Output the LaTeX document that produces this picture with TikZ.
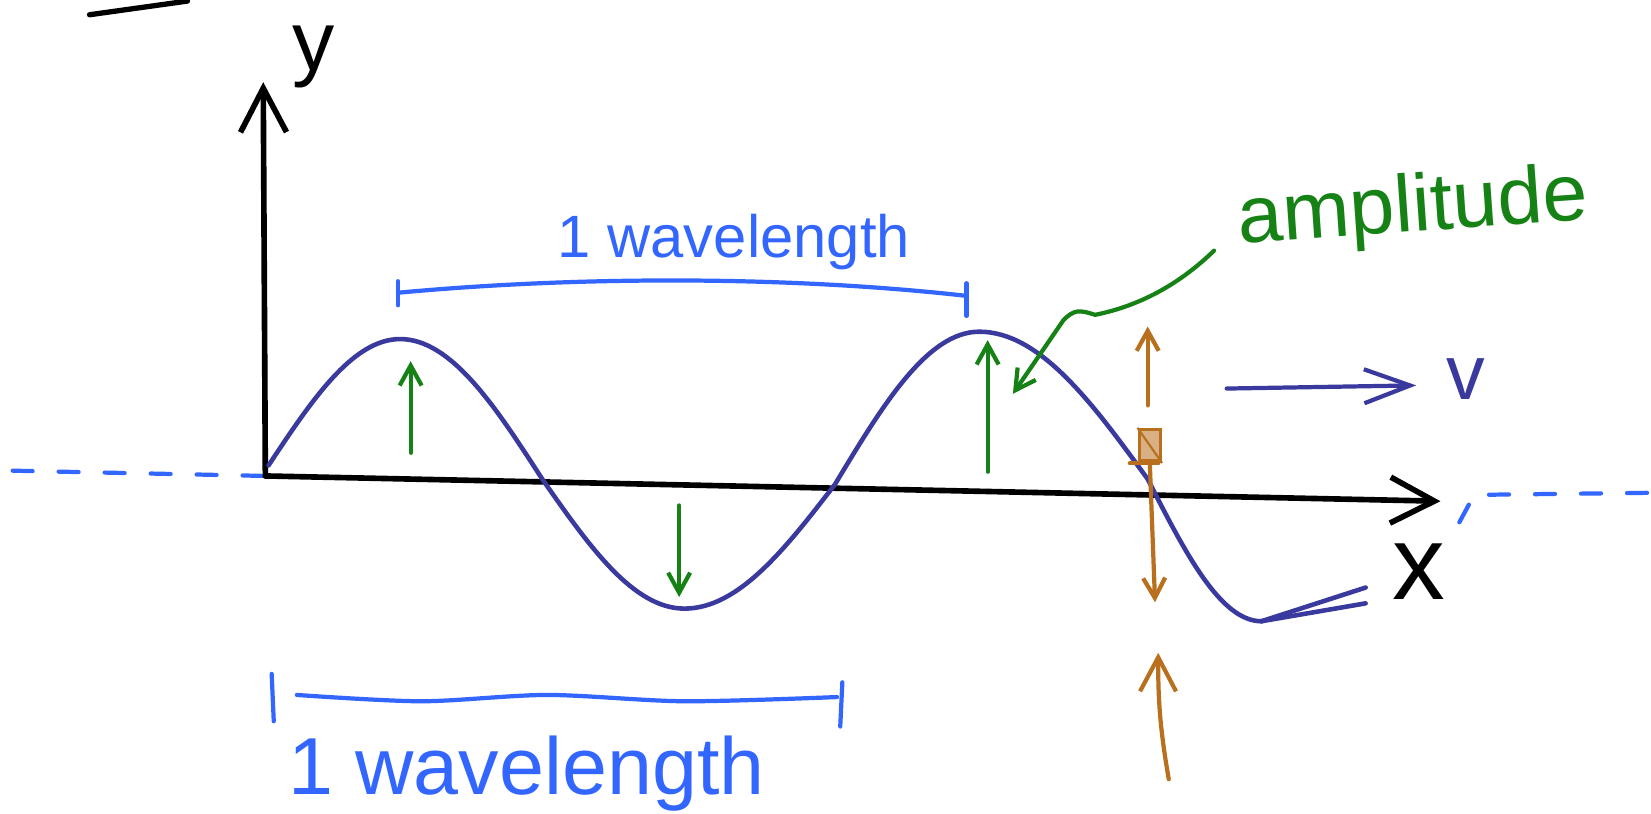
\documentclass[tikz,border=0pt]{standalone}
\usepackage{fontspec}
\setmainfont{Liberation Sans}
\usetikzlibrary{arrows.meta}
\definecolor{wavecol}{RGB}{58,58,158}
\definecolor{spanblue}{RGB}{51,102,255}
\definecolor{ampgreen}{RGB}{22,130,22}
\definecolor{partbrown}{RGB}{185,112,30}

\begin{document}
\begin{tikzpicture}[
  x=0.01053cm, y=-0.01053cm,
  ink/.style={line width=1.2pt, line cap=round, line join=round},
  axis/.style={ink, line width=1.6pt, black,
               -{Straight Barb[length=4.4mm, width=4.6mm, line width=1.6pt]}},
  wave/.style={ink, line width=1.3pt, wavecol},
  vel/.style={ink, wavecol, -{Straight Barb[length=4.6mm, width=3.4mm]}},
  amp/.style={ink, ampgreen, -{Straight Barb[length=2mm, width=2.2mm]}},
  part/.style={ink, partbrown, -{Straight Barb[length=2mm, width=2.2mm]}},
  span/.style={ink, spanblue},
  guide/.style={ink, spanblue, dash pattern=on 2mm off 2.6mm},
  lbl/.style={inner sep=0pt, anchor=center},
  partmark/.style={draw=partbrown, fill=partbrown!55, line width=1pt,
                   minimum width=6pt, minimum height=9pt, inner sep=0pt}
]
\useasboundingbox (0,0) rectangle (1568,773);

\coordinate (topl) at (85,14);
\coordinate (topr) at (178,1);
\draw[ink, line width=1.5pt] (topl) -- (topr);

\coordinate (origin) at (252,452);
\coordinate (ytip) at (250,78);
\coordinate (xtip) at (1368,476);
\coordinate (dashl) at (12,447);
\coordinate (dashr0) at (1386,496);
\coordinate (dashr1) at (1400,470);
\coordinate (dashr2) at (1568,468);
\draw[guide] (dashl) -- (origin);
\draw[guide] (dashr0) -- (dashr1) -- (dashr2);
\draw[axis] (origin) -- (ytip);
\draw[axis] (origin) -- (xtip);
\node[lbl, font=\fontsize{24}{24}\selectfont] (ylab) at (298,54) {y};
\node[lbl, font=\fontsize{30}{30}\selectfont] (xlab) at (1348,543) {x};

\draw[wave] (255,442) sin (380,322) cos (515,455) sin (650,578)
  cos (793,460) sin (930,315) cos (1090,455) sin (1198,590);
\coordinate (wend) at (1198,590);
\coordinate (tailhi) at (1297,558);
\coordinate (taillo) at (1297,573);
\draw[wave] (wend) -- (tailhi);
\draw[wave] (wend) -- (taillo);

\coordinate (vtail) at (1165,369);
\coordinate (vtip) at (1345,366);
\draw[vel] (vtail) -- (vtip);
\node[lbl, font=\fontsize{22}{22}\selectfont, text=wavecol] (vlab) at (1392,360) {v};

\coordinate (up1) at (390,430);
\coordinate (up1t) at (390,343);
\coordinate (dn1) at (645,480);
\coordinate (dn1t) at (645,567);
\coordinate (up2) at (938,448);
\coordinate (up2t) at (938,323);
\draw[amp] (up1) -- (up1t);
\draw[amp] (dn1) -- (dn1t);
\draw[amp] (up2) -- (up2t);

\node[lbl, font=\fontsize{23}{23}\selectfont, text=ampgreen, rotate=4]
  (amplbl) at (1342,200) {amplitude};
\coordinate (ampfrom) at (1153,238);
\coordinate (ampkink) at (1040,299);
\coordinate (amptip) at (962,374);
\draw[amp] (ampfrom) .. controls (1115,275) and (1075,292) .. (ampkink)
  .. controls (1025,294) and (1020,294) .. (1010,304) -- (amptip);

\coordinate (topspl) at (378,278);
\coordinate (topspr) at (918,281);
\draw[span] (378,267) -- (378,290);
\draw[span] (918,269) -- (918,300);
\draw[span] (topspl) .. controls (550,262) and (750,262) .. (topspr);
\node[lbl, font=\fontsize{17}{17}\selectfont, text=spanblue]
  (toplbl) at (697,230) {1 wavelength};

\coordinate (botspl) at (282,660);
\coordinate (botspr) at (795,662);
\draw[span] (258,640) -- (260,685);
\draw[span] (800,648) -- (798,690);
\draw[span] plot[smooth] coordinates {(botspl) (400,666) (520,660) (650,666) (botspr)};
\node[lbl, font=\fontsize{23}{23}\selectfont, text=spanblue]
  (botlbl) at (500,735) {1 wavelength};

\node[partmark] (particle) at (1092,423) {};
\draw[partbrown, line width=0.6pt] (particle.north west) -- (particle.south east);
\coordinate (baseL) at (1073,440);
\coordinate (baseR) at (1100,440);
\draw[ink, partbrown] (baseL) -- (baseR);
\coordinate (pup0) at (1090,385);
\coordinate (pup1) at (1090,310);
\coordinate (pdn1) at (1097,572);
\coordinate (pin0) at (1110,740);
\coordinate (pin1) at (1100,620);
\draw[part] (pup0) -- (pup1);
\draw[part] (particle.south) -- (pdn1);
\draw[part, -{Straight Barb[length=3.4mm, width=3.6mm]}] (pin0) to[bend left=5] (pin1);

\end{tikzpicture}
\end{document}
